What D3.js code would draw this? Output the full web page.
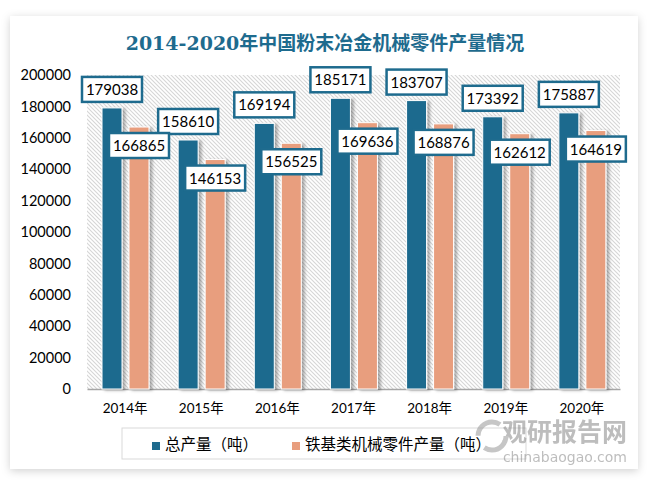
<!DOCTYPE html>
<html><head><meta charset="utf-8">
<script src="https://cdn.jsdelivr.net/npm/d3@7"></script>
<style>body{margin:0;background:#fff;}svg{display:block;}</style>
</head><body>
<script>
const years = ["2014年","2015年","2016年","2017年","2018年","2019年","2020年"];
const totalOutput = [179038,158610,169194,185171,183707,173392,175887];
const ironOutput = [166865,146153,156525,169636,168876,162612,164619];
const seriesNames = ["总产量（吨）","铁基类机械零件产量（吨）"];
const yTicks = [0,20000,40000,60000,80000,100000,120000,140000,160000,180000,200000];
const titleText = "2014-2020年中国粉末冶金机械零件产量情况";

const W=653,H=487;
const blue="#1e6b8e", orange="#e89e7e";
const svg=d3.select("body").append("svg").attr("width",W).attr("height",H);
const defs=svg.append("defs");
const cf=defs.append("filter").attr("id","cardShadow").attr("x","-10%").attr("y","-10%").attr("width","120%").attr("height","120%");
cf.append("feDropShadow").attr("dx",0).attr("dy",2).attr("stdDeviation",4).attr("flood-color","#000").attr("flood-opacity",0.18);
const bf=defs.append("filter").attr("id","barShadow").attr("x","-50%").attr("y","-10%").attr("width","200%").attr("height","120%");
bf.append("feDropShadow").attr("dx",3).attr("dy",1).attr("stdDeviation",1.5).attr("flood-color","#000").attr("flood-opacity",0.3);
const pat=defs.append("pattern").attr("id","hatch").attr("patternUnits","userSpaceOnUse").attr("width",4).attr("height",4);
pat.append("rect").attr("width",4).attr("height",4).attr("fill","#fff");
pat.append("path").attr("d","M-1,-1L5,5M-1,3L1,5M3,-1L5,1").attr("stroke","#d6d6d6").attr("stroke-width",1.1);

svg.append("rect").attr("x",10).attr("y",16).attr("width",628).attr("height",453).attr("fill","#fff").attr("filter","url(#cardShadow)");

svg.append("text").attr("x",325).attr("y",50).attr("text-anchor","middle")
  .attr("font-family","'DejaVu Serif','Noto Sans CJK SC',serif").attr("font-weight","bold")
  .attr("font-size",19).attr("fill",blue).text(titleText);

const x=d3.scaleBand().domain(years).range([87,620]);
const y=d3.scaleLinear().domain([0,200000]).range([389,75]);

svg.append("rect").attr("x",87).attr("y",75).attr("width",533).attr("height",314).attr("fill","url(#hatch)");

const yAxis=svg.append("g").attr("transform","translate(87,0)")
  .call(d3.axisLeft(y).tickValues(yTicks).tickSize(0).tickPadding(16).tickFormat(d3.format("d")));
yAxis.select(".domain").remove();
yAxis.selectAll("text").attr("font-family","Lato,'Noto Sans CJK SC',sans-serif").attr("font-size",14.5).attr("fill","#000");

const xAxis=svg.append("g").attr("transform","translate(0,389)")
  .call(d3.axisBottom(x).tickSize(0).tickPadding(14));
xAxis.select(".domain").attr("stroke","#a6a6a6").attr("stroke-width",1.5);
xAxis.selectAll("text").attr("font-family","Lato,'Noto Sans CJK SC',sans-serif").attr("font-size",13.5).attr("fill","#000");

const bw=20, off1=15, off2=42;
const g=svg.append("g");
g.selectAll(".b1").data(years).enter().append("rect")
  .attr("x",d=>x(d)+off1).attr("width",bw)
  .attr("y",(d,i)=>y(totalOutput[i])).attr("height",(d,i)=>y(0)-y(totalOutput[i]))
  .attr("fill",blue).attr("stroke","#fff").attr("stroke-width",1).attr("filter","url(#barShadow)");
g.selectAll(".b2").data(years).enter().append("rect")
  .attr("x",d=>x(d)+off2).attr("width",bw)
  .attr("y",(d,i)=>y(ironOutput[i])).attr("height",(d,i)=>y(0)-y(ironOutput[i]))
  .attr("fill",orange).attr("stroke","#fff").attr("stroke-width",1).attr("filter","url(#barShadow)");

function label(cx,top,val){
  const lg=svg.append("g");
  lg.append("rect").attr("x",cx-30).attr("y",top).attr("width",60).attr("height",25)
    .attr("fill","#fff").attr("stroke",blue).attr("stroke-width",2.5);
  lg.append("text").attr("x",cx).attr("y",top+18).attr("text-anchor","middle")
    .attr("font-family","Lato,sans-serif").attr("font-size",15).attr("fill","#000").text(val);
}
years.forEach((d,i)=>{
  label(x(d)+off1+bw/2, y(totalOutput[i])-31, totalOutput[i]);
});
years.forEach((d,i)=>{
  label(x(d)+off2+bw/2, y(ironOutput[i])+6, ironOutput[i]);
});

// legend
svg.append("rect").attr("x",122).attr("y",428).attr("width",404).attr("height",31).attr("fill","#fff").attr("stroke","#d9d9d9");
const leg=[{c:blue,x:152,t:seriesNames[0]},{c:orange,x:292,t:seriesNames[1]}];
leg.forEach(l=>{
  svg.append("rect").attr("x",l.x).attr("y",442).attr("width",8).attr("height",8).attr("fill",l.c);
  svg.append("text").attr("x",l.x+13).attr("y",450).attr("font-family","'Noto Sans CJK SC',sans-serif")
    .attr("font-size",15.5).attr("fill","#000").text(l.t);
});

// watermark
const wm=svg.append("g").attr("opacity",0.55);
wm.append("text").attr("x",627).attr("y",441).attr("text-anchor","end").attr("font-family","'Noto Sans CJK SC',sans-serif")
  .attr("font-weight","bold").attr("font-size",25).attr("fill","#888").text("观研报告网");
wm.append("text").attr("x",627).attr("y",462).attr("text-anchor","end").attr("font-family","'DejaVu Sans',sans-serif")
  .attr("font-size",14).attr("fill","#888").text("chinabaogao.com");
wm.append("circle").attr("cx",492).attr("cy",436).attr("r",14).attr("fill","none").attr("stroke","#999").attr("stroke-width",5).attr("stroke-dasharray","30 14");
</script>
</body></html>
